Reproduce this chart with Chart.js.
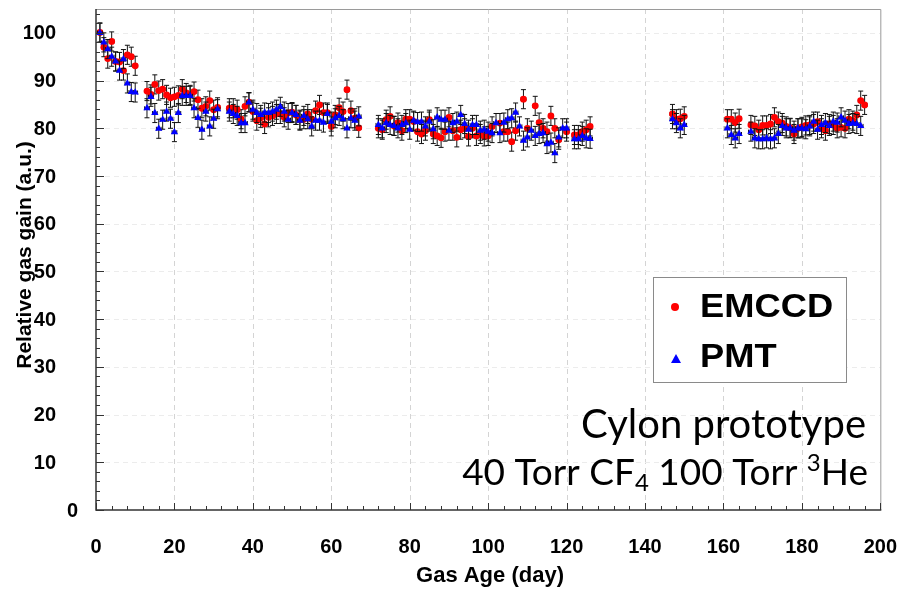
<!DOCTYPE html>
<html><head><meta charset="utf-8">
<script src="https://cdn.jsdelivr.net/npm/chart.js@4/dist/chart.umd.min.js"></script>
<style>html,body{margin:0;padding:0;background:#fff;}#wrap{width:922px;height:590px;}</style>
</head><body><div id="wrap"><canvas id="c" width="922" height="590"></canvas></div>
<script>
// ---- data ----
const emccdDays = [1,2,3,4,5,6,7,8,9,10,
 13,14,15,16,17,18,19,20,21,22,23,24,25,26,27,28,29,30,31,
 34,35,36,37,38,39,40,41,42,43,44,45,46,47,48,49,50,51,52,53,54,55,56,57,58,59,60,61,62,63,64,65,66,67,
 72,73,74,75,76,77,78,79,80,81,82,83,84,85,86,87,88,89,90,91,92,93,94,95,96,97,98,99,100,101,103,104,105,106,107,109,110,112,113,114,115,116,117,118,120,122,123,124,125,126,
 147,148,149,150,
 161,162,163,164,167,168,169,170,171,172,173,174,175,176,177,178,179,180,181,182,183,184,185,186,187,188,189,190,191,192,193,194,195,196];
const emccdGain = [100.1,97.0,94.6,98.2,94.0,93.9,92.1,95.4,95.0,93.1,
 87.8,87.1,89.2,87.9,88.2,87.0,86.4,86.6,86.9,88.2,87.4,87.0,87.7,86.0,84.2,84.6,85.8,83.9,84.4,
 84.2,84.2,83.9,81.9,84.6,85.5,83.5,81.6,82.2,80.9,82.3,82.6,83.0,83.0,82.3,83.2,83.4,82.8,81.8,81.9,83.0,81.9,83.7,84.9,83.3,83.3,80.4,82.8,84.3,83.5,88.1,83.7,82.1,80.1,
 80.0,79.7,81.8,82.5,80.5,81.2,79.5,81.9,81.9,81.4,79.3,78.8,79.5,81.8,78.8,78.4,78.0,79.3,82.3,79.5,78.1,79.7,80.0,78.3,80.0,78.4,78.8,78.3,78.4,80.4,81.1,79.3,79.3,77.2,79.5,86.1,80.0,84.7,81.2,80.0,79.3,82.6,80.0,77.6,79.3,78.6,78.6,79.3,79.7,80.4,
 83.0,81.9,82.0,82.5,
 81.9,81.9,81.2,82.0,80.7,80.5,79.7,80.6,80.6,80.9,82.3,81.4,81.1,80.4,80.1,78.8,80.0,80.3,80.6,80.7,80.9,81.4,80.0,79.5,80.9,80.7,80.0,80.2,80.0,81.9,81.6,82.8,85.8,84.9];
const pmtDays = [1,2,3,4,5,6,7,8,9,10,
 13,14,15,16,17,18,19,20,21,22,23,24,25,26,27,28,29,30,31,
 34,35,36,37,38,39,40,41,42,43,44,45,46,47,48,49,50,51,52,53,54,55,56,57,58,59,60,61,62,63,64,65,66,67,
 72,73,74,75,76,77,78,79,80,81,82,83,84,85,86,87,88,89,90,91,92,93,94,95,96,97,98,99,100,101,102,103,104,105,106,107,108,109,110,111,112,113,114,115,116,117,118,119,120,122,123,124,125,126,
 147,148,149,150,
 161,162,163,164,167,168,169,170,171,172,173,174,175,176,177,178,179,180,181,182,183,184,185,186,187,188,189,190,191,192,193,194,195];
const pmtGain = [100.0,98.0,96.6,95.0,94.0,92.1,94.5,89.4,87.6,87.5,
 84.2,86.6,83.2,79.9,81.8,83.5,82.0,79.2,83.2,86.8,86.8,86.8,84.2,82.2,79.7,83.5,80.4,82.0,84.0,
 83.5,83.0,82.6,81.1,81.1,85.4,83.9,83.2,82.8,83.3,83.2,83.5,83.9,84.5,83.5,81.8,83.2,82.8,81.6,82.6,81.9,80.4,81.6,81.6,81.2,83.0,81.4,82.1,82.6,81.9,80.0,82.1,81.6,82.5,
 80.7,80.0,81.1,80.7,80.5,80.0,80.7,81.1,79.7,81.6,81.3,81.4,80.4,81.4,79.8,82.3,81.8,81.8,79.5,81.1,81.4,82.8,80.9,79.7,80.7,80.7,79.5,79.7,79.3,79.0,81.1,79.0,81.2,81.9,82.1,83.3,80.4,77.4,78.1,79.5,78.4,78.8,79.0,76.7,77.0,74.8,78.1,80.0,80.0,77.7,77.7,78.4,77.9,77.8,
 81.9,81.1,80.0,80.7,
 80.0,78.6,77.9,78.8,79.3,77.9,77.7,77.7,77.9,77.7,77.9,78.8,80.5,80.0,80.0,79.5,80.0,80.0,79.8,80.4,81.4,79.7,80.7,81.1,80.5,81.4,81.2,82.3,81.6,80.9,81.1,80.9,80.5];
const yErr = 2.0;   // vertical error (a.u.)
const xErr = 0.6;   // horizontal error (day)
const xTicks = [0,20,40,60,80,100,120,140,160,180,200];
const yTicks = [0,10,20,30,40,50,60,70,80,90,100];
const xMinorStep = 4, yMinorStep = 2;
const seriesNames = ['EMCCD','PMT'];
const xTitle = 'Gas Age (day)';
const yTitle = 'Relative gas gain (a.u.)';
const noteLine1 = 'Cylon prototype';
const noteLine2 = [['40 Torr CF',0],['4',-1],[' 100 Torr ',0],['3',1],['He',0]];

const toPts = (d, g) => d.map((x, i) => ({x: x, y: g[i]}));
const BOLD = '"Liberation Sans", Arial, sans-serif';
const NOTE = 'Lato, "Open Sans", sans-serif';

const decor = {
  id: 'decor',
  beforeDatasetsDraw(chart) {
    const {ctx, chartArea: a, scales: {x, y}} = chart;
    ctx.save();
    ctx.setLineDash([5, 4]);
    ctx.lineWidth = 1;
    ctx.strokeStyle = '#d4d4d4';
    xTicks.forEach(v => { if (v <= x.min || v >= x.max) return; const px = Math.round(x.getPixelForValue(v)) + 0.5; ctx.beginPath(); ctx.moveTo(px, a.top); ctx.lineTo(px, a.bottom); ctx.stroke(); });
    ctx.strokeStyle = '#ececec';
    yTicks.forEach(v => { if (v <= y.min || v >= y.max) return; const py = Math.round(y.getPixelForValue(v)) + 0.5; ctx.beginPath(); ctx.moveTo(a.left, py); ctx.lineTo(a.right, py); ctx.stroke(); });
    ctx.restore();
  },
  beforeDatasetDraw(chart, args) {
    const {ctx, scales: {x, y}} = chart;
    const ds = chart.data.datasets[args.index];
    ctx.save();
    ctx.strokeStyle = '#111';
    ctx.lineWidth = 1;
    ds.data.forEach(p => {
      const px = x.getPixelForValue(p.x), py = y.getPixelForValue(p.y);
      const y1 = y.getPixelForValue(p.y + yErr), y2 = y.getPixelForValue(p.y - yErr);
      const x1 = x.getPixelForValue(p.x - xErr), x2 = x.getPixelForValue(p.x + xErr);
      ctx.beginPath();
      ctx.moveTo(px, y1); ctx.lineTo(px, y2);
      ctx.moveTo(px - 2.5, y1); ctx.lineTo(px + 2.5, y1);
      ctx.moveTo(px - 2.5, y2); ctx.lineTo(px + 2.5, y2);
      ctx.moveTo(x1, py); ctx.lineTo(x2, py);
      ctx.moveTo(x1, py - 2); ctx.lineTo(x1, py + 2);
      ctx.moveTo(x2, py - 2); ctx.lineTo(x2, py + 2);
      ctx.stroke();
    });
    ctx.restore();
  },
  afterDatasetsDraw(chart) {
    const {ctx, chartArea: a, scales: {x, y}} = chart;
    ctx.save();
    // frame
    ctx.lineWidth = 1;
    ctx.strokeStyle = '#9a9a9a';
    ctx.beginPath();
    ctx.moveTo(a.left, a.top + 0.5); ctx.lineTo(a.right + 0.5, a.top + 0.5); ctx.lineTo(a.right + 0.5, a.bottom);
    ctx.stroke();
    ctx.strokeStyle = '#333';
    ctx.lineWidth = 1.5;
    ctx.beginPath();
    ctx.moveTo(a.left, a.top); ctx.lineTo(a.left, a.bottom); ctx.lineTo(a.right + 1, a.bottom);
    ctx.stroke();
    // ticks (inward)
    ctx.lineWidth = 1;
    ctx.beginPath();
    for (let v = x.min; v <= x.max; v += xMinorStep) {
      const px = Math.round(x.getPixelForValue(v)) + 0.5;
      const len = (v % 20 === 0) ? 7 : 4;
      ctx.moveTo(px, a.bottom); ctx.lineTo(px, a.bottom - len);
    }
    for (let v = y.min; v <= y.max; v += yMinorStep) {
      const py = Math.round(y.getPixelForValue(v)) + 0.5;
      const len = (v % 10 === 0) ? 8 : 4;
      ctx.moveTo(a.left, py); ctx.lineTo(a.left + len, py);
    }
    ctx.stroke();
    // y tick labels
    ctx.fillStyle = '#000';
    ctx.font = 'bold 20px ' + BOLD;
    ctx.textAlign = 'right'; ctx.textBaseline = 'middle';
    yTicks.forEach(v => {
      const py = y.getPixelForValue(v);
      ctx.fillText(String(v), v === 0 ? 78 : 56, py + 1);
    });
    ctx.restore();
  },
  afterDraw(chart) {
    const {ctx} = chart;
    ctx.save();
    // axis titles
    ctx.fillStyle = '#000';
    ctx.font = 'bold 22px ' + BOLD;
    ctx.textAlign = 'center'; ctx.textBaseline = 'middle';
    ctx.fillText(xTitle, 490, 576);
    ctx.font = 'bold 21px ' + BOLD;
    ctx.save();
    ctx.translate(25, 255); ctx.rotate(-Math.PI / 2);
    ctx.fillText(yTitle, 0, 0);
    ctx.restore();
    // legend
    ctx.fillStyle = '#fff';
    ctx.fillRect(653, 277, 193, 105);
    ctx.strokeStyle = '#8a8a8a'; ctx.lineWidth = 1;
    ctx.strokeRect(653.5, 277.5, 193, 105);
    ctx.fillStyle = '#ff0000';
    ctx.beginPath(); ctx.arc(675, 307, 4, 0, 2 * Math.PI); ctx.fill();
    ctx.fillStyle = '#0000ff';
    ctx.beginPath(); ctx.moveTo(676, 354); ctx.lineTo(681, 363); ctx.lineTo(671, 363); ctx.closePath(); ctx.fill();
    ctx.fillStyle = '#000';
    ctx.font = 'bold 33px ' + BOLD;
    ctx.textAlign = 'left'; ctx.textBaseline = 'middle';
    ctx.save(); ctx.translate(700, 308); ctx.scale(1.1, 1); ctx.fillText(seriesNames[0], 0, 0); ctx.restore();
    ctx.save(); ctx.translate(700, 358); ctx.scale(1.1, 1); ctx.fillText(seriesNames[1], 0, 0); ctx.restore();
    // note text
    ctx.textBaseline = 'alphabetic';
    ctx.textAlign = 'right';
    ctx.font = '40px ' + NOTE;
    ctx.fillText(noteLine1, 866, 438);
    // second line with sub/superscripts
    ctx.textAlign = 'left';
    const big = '37px ' + NOTE, small = '24px ' + NOTE;
    let total = 0;
    noteLine2.forEach(([t, s]) => { ctx.font = s ? small : big; total += ctx.measureText(t).width; });
    let cx = 868 - total;
    noteLine2.forEach(([t, s]) => {
      ctx.font = s ? small : big;
      const dy = s === -1 ? 6 : (s === 1 ? -14 : 0);
      ctx.fillText(t, cx, 485 + dy);
      cx += ctx.measureText(t).width;
    });
    ctx.restore();
  }
};

new Chart(document.getElementById('c'), {
  type: 'scatter',
  data: {
    datasets: [
      {label: seriesNames[0], data: toPts(emccdDays, emccdGain), pointStyle: 'circle', pointRadius: 3.4, backgroundColor: '#ff0000', borderColor: '#ff0000', borderWidth: 0, order: 2},
      {label: seriesNames[1], data: toPts(pmtDays, pmtGain), pointStyle: 'triangle', pointRadius: 4.2, backgroundColor: '#0000ff', borderColor: '#0000ff', borderWidth: 0, order: 1}
    ]
  },
  options: {
    responsive: false, animation: false, devicePixelRatio: 1,
    layout: {padding: {top: 9, right: 37, left: 0, bottom: 0}},
    plugins: {legend: {display: false}, tooltip: {enabled: false}},
    scales: {
      x: {type: 'linear', min: 0, max: 200,
        afterBuildTicks: s => { s.ticks = xTicks.map(v => ({value: v})); },
        afterFit: s => { s.height = 80; },
        grid: {display: false, drawTicks: false}, border: {display: false},
        ticks: {color: '#000', padding: 25, maxRotation: 0, autoSkip: false, font: {family: BOLD, size: 20, weight: 'bold'}}},
      y: {type: 'linear', min: 0, max: 105,
        afterBuildTicks: s => { s.ticks = yTicks.map(v => ({value: v})); },
        afterFit: s => { s.width = 96; },
        grid: {display: false, drawTicks: false}, border: {display: false},
        ticks: {display: false}}
    }
  },
  plugins: [decor]
});
</script></body></html>
